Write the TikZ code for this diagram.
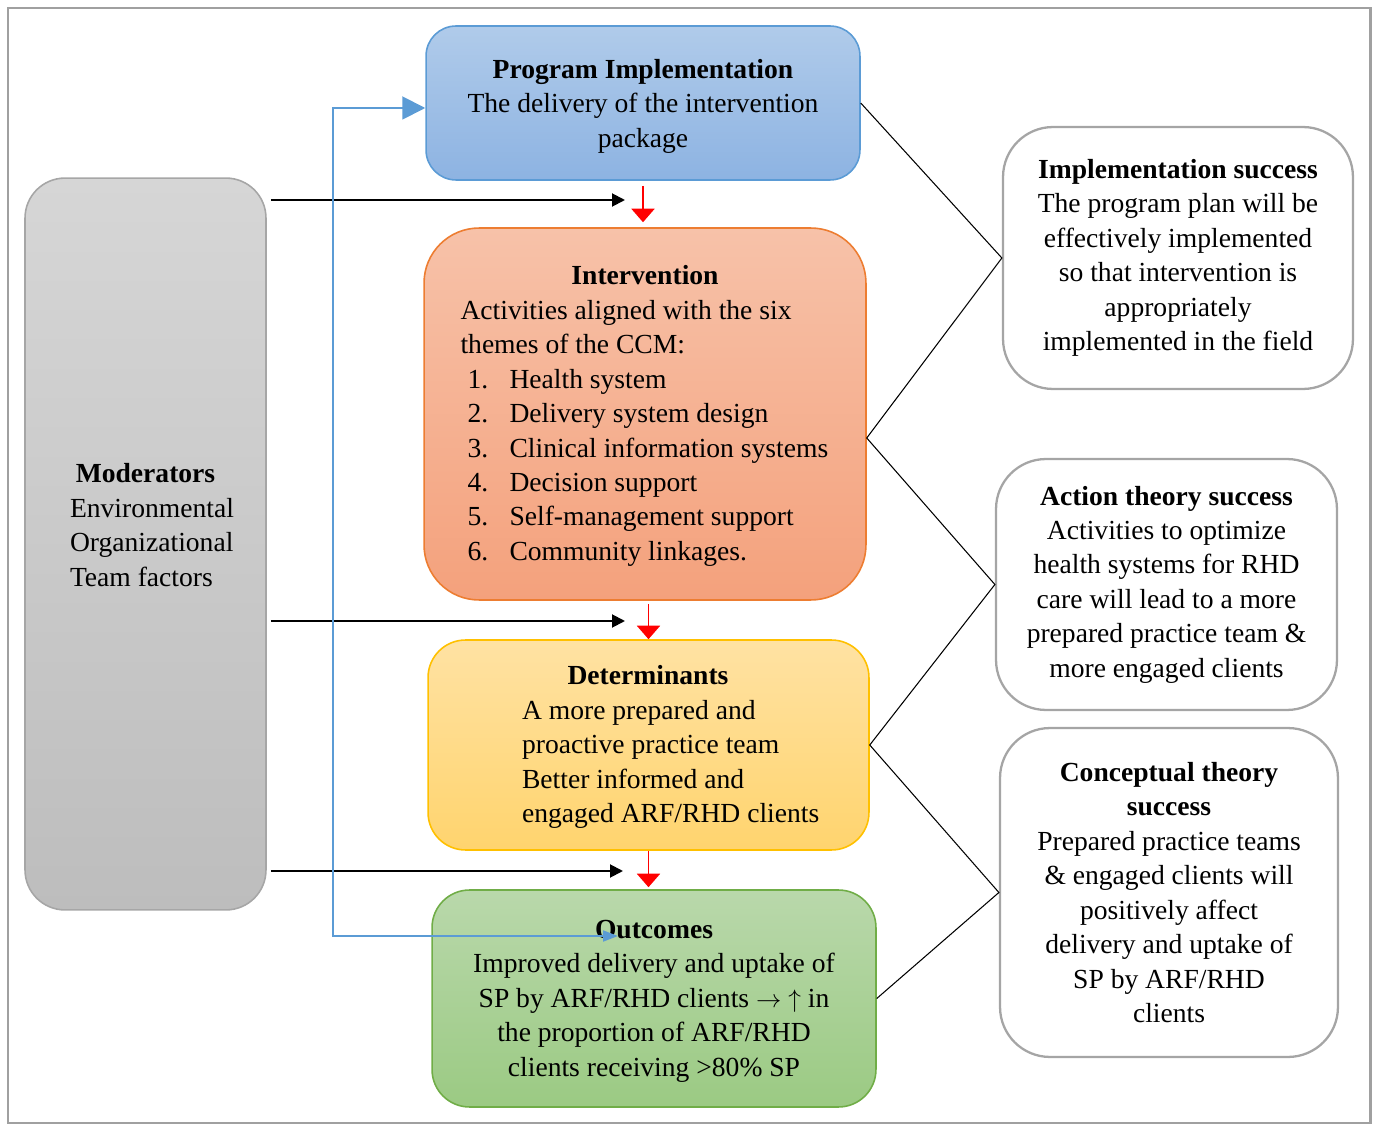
\documentclass[tikz,border=0pt]{standalone}
\usepackage{fontspec}
\setmainfont{Liberation Serif}
\usepackage{tikz}
\usetikzlibrary{calc,shapes,arrows.meta}

\definecolor{modtop}{HTML}{D6D6D6}
\definecolor{modbot}{HTML}{BDBDBD}
\definecolor{modline}{HTML}{A6A6A6}
\definecolor{progtop}{HTML}{B0CBEA}
\definecolor{progbot}{HTML}{8DB3E2}
\definecolor{progline}{HTML}{5B9BD5}
\definecolor{intvtop}{HTML}{F7C2A9}
\definecolor{intvbot}{HTML}{F4A17C}
\definecolor{intvline}{HTML}{ED7D31}
\definecolor{dettop}{HTML}{FFE2A3}
\definecolor{detbot}{HTML}{FFD46E}
\definecolor{detline}{HTML}{FFC000}
\definecolor{outctop}{HTML}{B9D8AB}
\definecolor{outcbot}{HTML}{9BCA83}
\definecolor{outcline}{HTML}{70AD47}
\definecolor{sideline}{HTML}{A5A5A5}
\definecolor{fbblue}{HTML}{5B9BD5}
\definecolor{framegray}{HTML}{A0A0A0}

\begin{document}
\begin{tikzpicture}[x=0.02cm,y=-0.02cm,
    every node/.style={font=\fontsize{15.7}{19.6}\selectfont},
    box/.style={rectangle,rounded corners=#1,line width=0.9pt},
    sidebox/.style={box=1cm,draw=sideline,line width=1.3pt,fill=white,align=center},
    modarrow/.style={line width=1.1pt,-{Triangle[length=0.26cm,width=0.26cm]}},
    redarrow/.style={red,line width=1.1pt,-{Triangle[length=0.27cm,width=0.46cm]}},
    fbline/.style={fbblue,line width=1.1pt,{Triangle[length=0.3cm,width=0.22cm]}-{Triangle[length=0.46cm,width=0.46cm]}}]
    \useasboundingbox (0,0) rectangle (1374,1125);
    \draw[framegray,line width=1.7pt] (8,8) rectangle (1370,1123);

    % left column
    \node[box=0.8cm,draw=modline,top color=modtop,bottom color=modbot,
        minimum width=4.82cm,minimum height=14.64cm] (mod) at (145.5,544) {};
    \node[align=left,inner sep=0pt] (modtext) at ([xshift=0.13cm,yshift=0.38cm]mod.center)
        {\makebox[3.28cm]{\hspace*{-0.26cm}\textbf{Moderators}}\\
        Environmental\\
        Organizational\\
        Team factors};

    % middle column
    \node[box=0.6cm,draw=progline,top color=progtop,bottom color=progbot,
        minimum width=8.68cm,minimum height=3.08cm] (prog) at (643,103) {};
    \node[align=center,inner sep=0pt] (progtext) at ([yshift=-0.06cm]prog.center)
        {\textbf{Program Implementation}\\The delivery of the intervention\\package};
    \node[box=1.1cm,draw=intvline,top color=intvtop,bottom color=intvbot,
        minimum width=8.84cm,minimum height=7.44cm] (intv) at (645,414) {};
    \node[align=left,inner sep=0pt] (intvtext) at ([yshift=-0.04cm]intv.center)
        {\makebox[7.38cm]{\textbf{Intervention}}\\
        Activities aligned with the six\\
        themes of the CCM:\\
        \hspace*{0.14cm}\makebox[0.84cm][l]{1.}Health system\\
        \hspace*{0.14cm}\makebox[0.84cm][l]{2.}Delivery system design\\
        \hspace*{0.14cm}\makebox[0.84cm][l]{3.}Clinical information systems\\
        \hspace*{0.14cm}\makebox[0.84cm][l]{4.}Decision support\\
        \hspace*{0.14cm}\makebox[0.84cm][l]{5.}Self-management support\\
        \hspace*{0.14cm}\makebox[0.84cm][l]{6.}Community linkages.};
    \node[box=0.75cm,draw=detline,top color=dettop,bottom color=detbot,
        minimum width=8.82cm,minimum height=4.2cm] (det) at (648.5,745) {};
    \node[align=left,inner sep=0pt] (dettext) at ([xshift=0.45cm,yshift=-0.04cm]det.center)
        {\makebox[5.96cm]{\hspace*{-0.92cm}\textbf{Determinants}}\\
        A more prepared and\\
        proactive practice team\\
        Better informed and\\
        engaged ARF/RHD clients};
    \node[box=0.75cm,draw=outcline,top color=outctop,bottom color=outcbot,
        minimum width=8.88cm,minimum height=4.34cm] (outc) at (654,998.5) {};
    \node[align=center,inner sep=0pt] (outctext) at ([yshift=-0.05cm]outc.center)
        {\textbf{Outcomes}\\Improved delivery and uptake of\\SP by ARF/RHD clients $\rightarrow$ $\uparrow$ in\\
        the proportion of ARF/RHD\\clients receiving >80\% SP};

    % right column
    \node[sidebox,minimum width=7cm,minimum height=5.24cm] (impl) at (1178,258)
        {\textbf{Implementation success}\\The program plan will be\\effectively implemented\\
        so that intervention is\\appropriately\\implemented in the field};
    \node[sidebox,minimum width=6.82cm,minimum height=5.02cm] (act) at (1166.5,584.5)
        {\textbf{Action theory success}\\Activities to optimize\\health systems for RHD\\
        care will lead to a more\\prepared practice team \&\\more engaged clients};
    \node[sidebox,minimum width=6.76cm,minimum height=6.58cm] (conc) at (1169,892.5)
        {\textbf{Conceptual theory}\\\textbf{success}\\Prepared practice teams\\
        \& engaged clients will\\positively affect\\delivery and uptake of\\SP by ARF/RHD\\clients};

    % connectors
    \draw[line width=0.6pt] (prog.east) -- (impl.west) -- ([yshift=-0.48cm]intv.east)
        -- (act.west) -- (det.east) -- (conc.west) -- (outc.east);
    \draw[redarrow] ([yshift=-0.1cm]prog.south) -- ([yshift=0.1cm]prog.south |- intv.north);
    \draw[redarrow] ([yshift=-0.06cm]det.north |- intv.south) -- (det.north);
    \draw[redarrow] (det.south) -- ([yshift=0.04cm]det.south |- outc.north);
    \coordinate (m1) at (625,200);
    \coordinate (m2) at (625,621);
    \coordinate (m3) at (623,871);
    \foreach \m in {m1,m2,m3}
        \draw[modarrow] ([xshift=0.08cm]mod.east |- \m) -- (\m);
    \coordinate (fb) at (618,936);
    \draw[fbline] (fb) -- ++(-285,0) |- ([yshift=-0.1cm]prog.west);
\end{tikzpicture}
\end{document}
